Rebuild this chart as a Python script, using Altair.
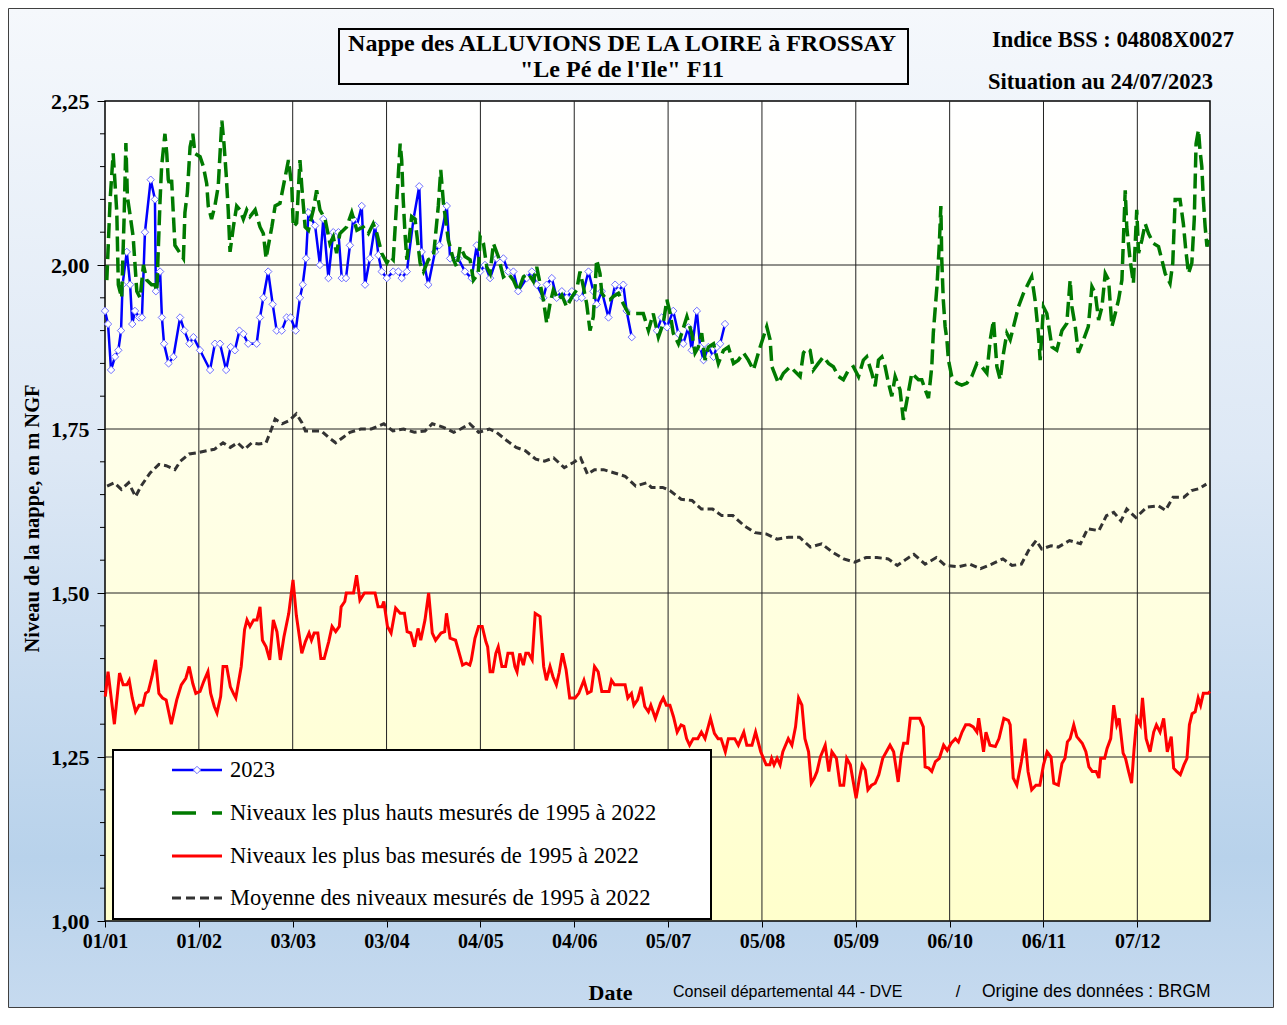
import altair as alt
import pandas as pd

# ---------------- axis definitions ----------------
TICK_DAYS = [0, 31, 62, 93, 124, 155, 186, 217, 248, 279, 310, 341]
TICK_LABELS = ["01/01", "01/02", "03/03", "03/04", "04/05", "04/06",
               "05/07", "05/08", "05/09", "06/10", "06/11", "07/12"]
Y_TICKS = [1.0, 1.25, 1.5, 1.75, 2.0, 2.25]
Y_MINOR = [1.05, 1.1, 1.15, 1.2, 1.3, 1.35, 1.4, 1.45, 1.55, 1.6, 1.65, 1.7,
           1.8, 1.85, 1.9, 1.95, 2.05, 2.1, 2.15, 2.2]

TITLE_LINES = ["Nappe des ALLUVIONS DE LA LOIRE à FROSSAY", "\"Le Pé de l'Ile\" F11"]
INFO_LINES = ["Indice BSS : 04808X0027", "Situation au 24/07/2023"]
SERIES_LABELS = ["2023",
                 "Niveaux les plus hauts mesurés de 1995 à 2022",
                 "Niveaux les plus bas mesurés de 1995 à 2022",
                 "Moyenne des niveaux mesurés de 1995 à 2022"]
CREDITS = ["Conseil départemental 44 - DVE", "/", "Origine des données : BRGM"]

# ---------------- data (day of year, level in m NGF) ----------------
Y2023_PART1 = [(0.0, 1.93), (1.0, 1.91), (2.0, 1.84), (3.3, 1.86), (4.4, 1.87), (5.3, 1.90),
    (5.8, 1.97), (7.2, 2.02), (8.3, 1.97), (9.0, 1.91), (9.9, 1.93), (11.3, 1.92), (12.2, 1.92),
    (13.2, 2.05), (15.1, 2.13), (16.5, 2.10), (16.8, 1.96), (18.2, 1.99), (18.8, 1.92), (19.5, 1.88),
    (21.0, 1.85), (22.6, 1.86), (24.8, 1.92), (26.2, 1.90), (27.9, 1.88), (29.2, 1.89), (31.4, 1.87),
    (34.7, 1.84), (36.3, 1.88), (38.0, 1.88), (40.0, 1.84), (41.5, 1.875), (42.9, 1.87), (44.4, 1.90),
    (45.7, 1.895), (47.3, 1.88), (50.1, 1.88), (51.2, 1.92), (52.3, 1.95), (53.9, 1.99), (55.4, 1.94),
    (56.7, 1.90), (58.4, 1.90), (60.0, 1.92), (61.3, 1.92), (63.0, 1.90), (64.4, 1.95), (65.3, 1.97),
    (66.4, 2.01), (67.2, 2.08), (69.4, 2.06), (71.0, 2.00), (72.1, 2.07), (73.8, 1.98), (75.4, 2.05),
    (77.1, 2.05), (78.2, 1.98), (79.6, 1.98), (80.9, 2.03), (82.0, 2.07), (83.2, 2.06), (84.8, 2.09),
    (85.9, 1.97), (87.5, 2.01), (89.2, 2.06), (90.3, 2.015), (91.4, 1.99), (93.1, 1.98), (95.2, 1.99),
    (96.9, 1.99), (98.0, 1.98), (99.7, 1.99), (101.9, 2.07), (103.8, 2.12), (104.6, 2.02), (106.8, 1.97),
    (109.0, 2.02), (110.4, 2.03), (112.9, 2.09), (114.0, 2.01), (116.7, 2.01), (118.9, 1.99), (121.1, 1.98),
    (122.8, 2.03), (123.9, 1.99), (125.5, 2.00), (127.2, 1.98), (129.4, 2.01), (131.6, 2.01), (133.2, 1.99),
    (134.9, 1.99), (136.5, 1.96), (139.3, 1.98), (141.0, 1.99), (142.6, 1.97), (144.8, 1.95), (145.9, 1.97),
    (147.6, 1.98), (149.2, 1.95), (150.9, 1.96), (152.5, 1.95), (154.2, 1.96), (155.8, 1.95), (157.5, 1.95),
    (159.7, 1.99), (161.3, 1.96), (162.4, 1.94), (164.1, 1.96), (166.3, 1.92), (168.5, 1.97), (169.6, 1.96),
    (171.2, 1.97), (172.3, 1.93), (174.0, 1.89)]
Y2023_PART2 = [(182.3, 1.90), (183.9, 1.92), (185.6, 1.905), (187.7, 1.93), (189.4, 1.895), (191.0, 1.88),
    (192.7, 1.905), (193.8, 1.87), (195.5, 1.93), (196.6, 1.875), (197.7, 1.855), (199.3, 1.875),
    (201.0, 1.86), (202.1, 1.875), (203.2, 1.88), (204.8, 1.91)]

MAX_LEVELS = [(0.6, 1.977), (1.7, 2.10), (2.7, 2.17), (3.9, 2.08), (4.4, 1.97), (5.5, 1.95), (6.3, 2.07),
    (6.9, 2.186), (7.4, 2.104), (8.3, 2.076), (9.3, 2.043), (10.5, 1.96), (11.6, 1.95), (12.7, 2.00),
    (13.8, 1.977), (15.4, 1.97), (16.5, 1.97), (17.1, 1.96), (18.2, 2.10), (18.7, 2.15), (19.8, 2.20),
    (20.4, 2.17), (20.9, 2.13), (21.5, 2.12), (22.0, 2.13), (23.1, 2.03), (24.8, 2.018), (25.9, 2.01),
    (26.4, 2.08), (27.2, 2.11), (28.1, 2.18), (29.0, 2.20), (29.7, 2.17), (31.4, 2.165), (32.5, 2.15),
    (33.6, 2.124), (34.1, 2.09), (35.2, 2.07), (36.3, 2.09), (37.4, 2.12), (38.6, 2.22), (39.3, 2.185),
    (40.0, 2.14), (40.7, 2.084), (41.3, 2.02), (42.4, 2.058), (43.5, 2.09), (44.6, 2.084), (45.7, 2.07),
    (46.8, 2.084), (47.9, 2.074), (49.6, 2.084), (51.2, 2.058), (52.3, 2.048), (53.2, 2.01), (53.9, 2.028),
    (55.1, 2.058), (56.2, 2.09), (57.8, 2.094), (59.5, 2.134), (60.6, 2.16), (61.7, 2.12), (62.2, 2.058),
    (63.3, 2.064), (64.4, 2.16), (65.0, 2.12), (66.1, 2.058), (67.2, 2.053), (68.8, 2.084), (69.9, 2.114),
    (71.0, 2.084), (72.7, 2.07), (74.3, 2.033), (75.4, 2.043), (76.5, 2.018), (77.6, 2.048), (79.8, 2.058),
    (81.5, 2.08), (83.2, 2.053), (85.3, 2.058), (87.0, 2.048), (88.6, 2.063), (89.8, 2.048), (91.4, 2.018),
    (93.1, 2.003), (94.2, 2.013), (95.2, 2.008), (96.4, 2.10), (97.5, 2.185), (98.0, 2.16), (98.5, 2.10),
    (99.1, 2.048), (99.7, 2.008), (101.3, 2.074), (102.4, 2.07), (104.1, 2.003), (105.2, 1.99),
    (106.8, 2.008), (108.5, 2.013), (110.1, 2.09), (110.9, 2.145), (111.8, 2.094), (113.4, 2.038),
    (115.1, 2.008), (116.2, 1.997), (117.3, 2.028), (118.9, 2.013), (120.6, 2.008), (121.7, 1.977),
    (123.3, 1.987), (123.9, 2.043), (125.0, 2.033), (126.1, 1.997), (127.2, 1.987), (128.3, 2.033),
    (129.9, 2.013), (131.6, 1.982), (133.2, 1.987), (134.9, 1.977), (136.5, 1.96), (138.2, 1.982),
    (139.8, 1.987), (141.5, 1.975), (142.6, 1.997), (143.7, 1.972), (144.8, 1.947), (145.9, 1.911),
    (147.0, 1.941), (148.1, 1.962), (149.8, 1.947), (150.9, 1.954), (152.5, 1.936), (154.2, 1.951),
    (155.8, 1.962), (156.9, 1.99), (158.0, 1.967), (159.1, 1.941), (160.2, 1.90), (161.3, 1.921),
    (162.4, 2.008), (163.5, 1.987), (164.1, 1.957), (165.7, 1.947), (166.8, 1.947), (167.9, 1.952),
    (169.6, 1.957), (171.2, 1.941), (172.9, 1.926), (174.5, 1.926), (177.8, 1.926), (179.5, 1.90),
    (181.1, 1.926), (182.8, 1.89), (184.4, 1.911), (185.6, 1.947), (186.7, 1.926), (187.7, 1.896),
    (189.4, 1.88), (190.5, 1.896), (192.2, 1.921), (193.8, 1.896), (194.9, 1.866), (196.0, 1.875),
    (197.1, 1.896), (198.2, 1.855), (199.3, 1.875), (201.0, 1.88), (202.6, 1.85), (204.3, 1.87),
    (205.9, 1.875), (207.6, 1.85), (209.2, 1.855), (210.9, 1.866), (212.5, 1.855), (214.2, 1.84),
    (216.4, 1.875), (218.6, 1.906), (219.7, 1.886), (220.3, 1.845), (222.4, 1.82), (224.1, 1.835),
    (226.3, 1.845), (229.6, 1.83), (230.7, 1.866), (231.8, 1.873), (232.9, 1.87), (234.0, 1.84),
    (235.6, 1.85), (237.3, 1.86), (239.0, 1.85), (240.6, 1.845), (242.3, 1.83), (243.9, 1.825),
    (245.6, 1.84), (247.2, 1.845), (248.9, 1.83), (250.5, 1.855), (251.6, 1.86), (253.3, 1.835),
    (254.4, 1.815), (255.5, 1.855), (256.6, 1.86), (257.7, 1.845), (258.8, 1.82), (259.9, 1.80),
    (261.0, 1.83), (262.6, 1.81), (263.7, 1.764), (264.9, 1.794), (266.5, 1.835), (268.7, 1.825),
    (269.8, 1.825), (270.9, 1.81), (272.0, 1.797), (273.1, 1.845), (273.6, 1.896), (274.8, 1.967),
    (275.6, 2.033), (276.1, 2.09), (276.4, 2.008), (276.9, 1.947), (277.5, 1.906), (278.1, 1.886),
    (278.6, 1.855), (279.7, 1.83), (281.4, 1.82), (283.0, 1.817), (284.7, 1.82), (286.3, 1.83),
    (288.0, 1.85), (289.6, 1.845), (291.3, 1.835), (292.4, 1.886), (293.5, 1.916), (294.6, 1.845),
    (295.7, 1.825), (296.8, 1.866), (297.9, 1.896), (299.0, 1.886), (300.1, 1.906), (301.7, 1.936),
    (303.4, 1.957), (305.0, 1.972), (306.1, 1.982), (307.2, 1.947), (308.3, 1.896), (308.9, 1.855),
    (310.0, 1.936), (311.1, 1.926), (312.8, 1.875), (314.4, 1.87), (316.1, 1.90), (317.7, 1.911),
    (318.8, 1.977), (319.4, 1.936), (320.5, 1.906), (321.5, 1.866), (323.2, 1.886), (324.8, 1.906),
    (326.0, 1.967), (327.1, 1.957), (328.2, 1.916), (329.3, 1.936), (330.4, 1.987), (331.5, 1.977),
    (332.6, 1.906), (333.7, 1.926), (334.8, 1.947), (335.9, 1.977), (336.4, 2.038), (337.0, 2.114),
    (337.5, 2.058), (338.6, 2.008), (339.7, 1.972), (340.3, 2.033), (340.8, 2.084), (341.4, 2.018),
    (342.5, 2.038), (343.6, 2.063), (344.7, 2.048), (346.3, 2.033), (348.0, 2.028), (349.1, 2.008),
    (350.2, 1.987), (351.8, 1.972), (352.7, 2.003), (353.5, 2.10), (355.1, 2.10), (356.2, 2.063),
    (357.0, 2.023), (357.9, 1.987), (359.0, 2.003), (359.8, 2.07), (360.4, 2.185), (361.2, 2.206),
    (361.7, 2.175), (362.3, 2.15), (362.8, 2.10), (363.4, 2.058), (364.0, 2.028), (364.8, 2.048)]

MIN_LEVELS = [(0.1, 1.342), (1.0, 1.38), (3.1, 1.30), (4.8, 1.378), (6.0, 1.36), (7.2, 1.36), (8.0, 1.367),
    (9.0, 1.34), (10.1, 1.319), (11.3, 1.329), (12.5, 1.329), (13.4, 1.347), (14.3, 1.35), (15.5, 1.372),
    (16.7, 1.398), (17.8, 1.347), (19.0, 1.34), (20.2, 1.337), (21.9, 1.30), (23.7, 1.337), (25.2, 1.36),
    (26.7, 1.37), (27.8, 1.388), (29.0, 1.362), (30.0, 1.347), (31.4, 1.35), (32.6, 1.365), (34.0, 1.38),
    (34.9, 1.347), (36.1, 1.327), (37.0, 1.317), (38.2, 1.342), (39.0, 1.388), (40.2, 1.388), (41.4, 1.357),
    (42.6, 1.345), (43.2, 1.34), (45.0, 1.388), (46.1, 1.444), (46.9, 1.459), (47.9, 1.449), (49.1, 1.459),
    (50.2, 1.459), (51.2, 1.479), (52.0, 1.428), (53.2, 1.418), (54.4, 1.398), (55.6, 1.459), (56.8, 1.441),
    (57.9, 1.398), (59.1, 1.433), (60.7, 1.469), (62.1, 1.52), (63.2, 1.466), (65.0, 1.408), (66.2, 1.426),
    (67.4, 1.439), (68.2, 1.428), (69.1, 1.439), (70.3, 1.439), (71.3, 1.40), (72.4, 1.40), (73.9, 1.426),
    (75.0, 1.449), (76.2, 1.441), (77.4, 1.449), (78.0, 1.479), (79.2, 1.487), (79.7, 1.50), (82.1, 1.50),
    (83.1, 1.527), (84.2, 1.489), (85.7, 1.50), (87.4, 1.50), (89.2, 1.50), (90.2, 1.479), (91.5, 1.479),
    (92.1, 1.487), (93.3, 1.449), (94.5, 1.439), (96.0, 1.477), (97.5, 1.469), (98.9, 1.469), (99.8, 1.441),
    (101.0, 1.439), (102.2, 1.418), (103.4, 1.446), (104.3, 1.428), (105.7, 1.459), (106.9, 1.50),
    (108.1, 1.439), (109.2, 1.428), (111.0, 1.439), (112.2, 1.441), (112.8, 1.469), (114.0, 1.431),
    (115.8, 1.428), (118.1, 1.39), (119.3, 1.393), (120.5, 1.39), (121.0, 1.398), (122.2, 1.431),
    (123.4, 1.449), (124.6, 1.449), (125.8, 1.426), (126.4, 1.418), (127.2, 1.38), (128.1, 1.38),
    (129.1, 1.408), (129.9, 1.418), (131.1, 1.388), (132.3, 1.388), (133.1, 1.408), (134.6, 1.408),
    (135.4, 1.388), (136.1, 1.38), (137.0, 1.408), (138.2, 1.39), (139.0, 1.408), (139.9, 1.408),
    (141.1, 1.398), (142.1, 1.469), (143.7, 1.464), (144.9, 1.388), (145.8, 1.367), (147.0, 1.388),
    (148.0, 1.372), (149.1, 1.36), (150.0, 1.378), (151.1, 1.408), (152.3, 1.383), (153.5, 1.34),
    (155.3, 1.34), (156.5, 1.347), (158.2, 1.367), (159.4, 1.347), (160.6, 1.35), (161.7, 1.388),
    (162.9, 1.38), (164.1, 1.35), (166.5, 1.35), (167.3, 1.367), (168.3, 1.36), (171.8, 1.36),
    (172.7, 1.34), (173.9, 1.347), (174.7, 1.329), (175.9, 1.337), (177.1, 1.357), (178.3, 1.327),
    (179.5, 1.319), (180.3, 1.329), (181.8, 1.309), (183.5, 1.332), (184.4, 1.34), (185.4, 1.329),
    (186.6, 1.329), (187.8, 1.311), (189.0, 1.288), (190.3, 1.299), (191.2, 1.297), (192.1, 1.278),
    (193.1, 1.268), (194.3, 1.278), (195.8, 1.278), (197.0, 1.288), (198.2, 1.278), (200.0, 1.309),
    (201.3, 1.286), (202.5, 1.278), (203.5, 1.278), (204.9, 1.258), (205.9, 1.278), (208.0, 1.278),
    (209.2, 1.268), (211.0, 1.288), (212.0, 1.268), (213.7, 1.268), (214.9, 1.288), (216.6, 1.258),
    (218.4, 1.238), (219.6, 1.238), (220.2, 1.248), (221.0, 1.238), (222.0, 1.248), (223.0, 1.238),
    (223.9, 1.258), (225.7, 1.278), (226.9, 1.268), (228.1, 1.296), (229.1, 1.34), (230.2, 1.329),
    (231.2, 1.278), (232.4, 1.258), (233.3, 1.21), (234.3, 1.218), (235.2, 1.228), (236.3, 1.25),
    (237.9, 1.268), (239.1, 1.228), (240.1, 1.258), (241.6, 1.248), (242.8, 1.207), (244.0, 1.207),
    (245.0, 1.248), (246.2, 1.238), (248.1, 1.187), (249.2, 1.218), (250.1, 1.238), (251.1, 1.23),
    (252.0, 1.20), (253.2, 1.207), (254.4, 1.21), (255.6, 1.223), (256.9, 1.248), (258.1, 1.258),
    (259.3, 1.268), (260.5, 1.258), (262.0, 1.212), (263.0, 1.253), (263.8, 1.271), (265.1, 1.271),
    (266.0, 1.309), (269.1, 1.309), (270.3, 1.296), (270.9, 1.235), (272.1, 1.233), (273.1, 1.228),
    (274.3, 1.243), (275.6, 1.248), (277.0, 1.268), (278.2, 1.26), (279.5, 1.271), (280.9, 1.278),
    (281.9, 1.273), (283.1, 1.288), (284.3, 1.299), (285.6, 1.299), (286.8, 1.296), (288.0, 1.288),
    (288.6, 1.309), (290.2, 1.258), (291.0, 1.288), (292.3, 1.268), (294.1, 1.266), (295.3, 1.278),
    (296.9, 1.309), (298.4, 1.306), (299.0, 1.299), (300.0, 1.218), (301.2, 1.207), (302.7, 1.243),
    (303.9, 1.278), (304.9, 1.228), (306.1, 1.20), (307.5, 1.207), (308.8, 1.207), (310.0, 1.238),
    (311.2, 1.258), (312.5, 1.25), (313.4, 1.21), (314.9, 1.207), (316.1, 1.24), (317.1, 1.248),
    (317.9, 1.273), (318.8, 1.278), (320.0, 1.299), (321.0, 1.281), (322.8, 1.271), (324.0, 1.258),
    (325.0, 1.235), (326.1, 1.228), (327.4, 1.228), (328.3, 1.218), (328.9, 1.248), (330.2, 1.248),
    (331.0, 1.263), (332.2, 1.278), (333.2, 1.329), (334.2, 1.299), (335.0, 1.309), (336.3, 1.256),
    (337.1, 1.248), (338.1, 1.228), (339.1, 1.21), (339.9, 1.261), (340.8, 1.309), (342.0, 1.299),
    (342.7, 1.34), (343.9, 1.278), (345.2, 1.258), (346.4, 1.288), (347.3, 1.299), (348.5, 1.288),
    (349.7, 1.309), (350.9, 1.258), (352.2, 1.281), (353.0, 1.233), (354.0, 1.228), (355.2, 1.223),
    (356.4, 1.238), (357.4, 1.248), (358.2, 1.299), (359.1, 1.316), (360.1, 1.319), (361.1, 1.34),
    (361.9, 1.329), (362.8, 1.347), (364.4, 1.347), (365.0, 1.35)]

MEAN_LEVELS = [(0.7, 1.663), (3.1, 1.668), (5.4, 1.658), (7.8, 1.668), (10.1, 1.647), (11.9, 1.663),
    (14.9, 1.683), (17.8, 1.696), (20.2, 1.694), (23.1, 1.688), (24.9, 1.701), (27.8, 1.712), (30.8, 1.714),
    (33.7, 1.717), (36.1, 1.719), (39.0, 1.729), (41.4, 1.722), (43.8, 1.729), (46.1, 1.719), (48.5, 1.729),
    (50.8, 1.727), (53.2, 1.729), (55.0, 1.75), (56.2, 1.765), (58.5, 1.758), (60.9, 1.763), (63.2, 1.773),
    (65.0, 1.76), (66.2, 1.747), (69.1, 1.747), (71.5, 1.747), (73.9, 1.737), (76.2, 1.729), (78.6, 1.737),
    (80.9, 1.745), (84.5, 1.75), (88.0, 1.75), (92.1, 1.758), (95.1, 1.747), (98.6, 1.75), (102.2, 1.745),
    (105.7, 1.747), (108.1, 1.758), (111.6, 1.753), (115.2, 1.745), (117.5, 1.75), (120.5, 1.758),
    (123.4, 1.745), (127.0, 1.75), (129.3, 1.745), (132.8, 1.732), (135.8, 1.722), (138.8, 1.717),
    (142.3, 1.704), (145.2, 1.701), (148.2, 1.706), (151.7, 1.691), (154.7, 1.699), (157.1, 1.706),
    (159.4, 1.681), (161.7, 1.688), (164.7, 1.688), (168.3, 1.683), (171.8, 1.678), (175.3, 1.663),
    (178.9, 1.668), (180.5, 1.661), (184.2, 1.661), (186.6, 1.656), (190.3, 1.643), (193.9, 1.641),
    (197.0, 1.628), (200.7, 1.628), (203.7, 1.618), (207.4, 1.618), (211.0, 1.603), (214.7, 1.592),
    (218.4, 1.59), (222.0, 1.582), (225.7, 1.585), (229.4, 1.585), (233.0, 1.57), (236.7, 1.575),
    (240.4, 1.562), (244.0, 1.552), (247.7, 1.547), (251.4, 1.554), (255.0, 1.554), (258.7, 1.552),
    (261.7, 1.542), (264.8, 1.552), (267.2, 1.559), (270.9, 1.544), (274.6, 1.554), (277.6, 1.542),
    (281.9, 1.54), (285.6, 1.544), (289.2, 1.537), (292.9, 1.544), (296.6, 1.552), (299.6, 1.542),
    (302.7, 1.544), (305.1, 1.565), (307.6, 1.58), (309.4, 1.567), (312.5, 1.572), (314.9, 1.57),
    (318.6, 1.58), (322.2, 1.575), (324.6, 1.598), (328.3, 1.595), (330.8, 1.618), (333.2, 1.623),
    (335.6, 1.61), (337.5, 1.628), (340.5, 1.615), (344.2, 1.631), (347.9, 1.633), (350.3, 1.626),
    (352.8, 1.646), (356.4, 1.646), (358.9, 1.656), (361.3, 1.659), (363.8, 1.666)]

# ---------------- styling ----------------
SERIF = "Liberation Serif"
SANS = "Liberation Sans"
W, H = 1105, 820
C_BLUE, C_MARK, C_GREEN, C_RED, C_MEAN = "#0000ff", "#6f6fff", "#007a00", "#ff0000", "#333333"
DASH_MAX, DASH_MEAN = [15, 6], [7, 4]


def frame(pairs):
    return pd.DataFrame(pairs, columns=["day", "level"])


blue_df = pd.concat([frame(Y2023_PART1).assign(seg=0), frame(Y2023_PART2).assign(seg=1)])
max_df, min_df, mean_df = frame(MAX_LEVELS), frame(MIN_LEVELS), frame(MEAN_LEVELS)
one = pd.DataFrame({"k": [0]})

xs = alt.Scale(domain=[0, 365], nice=False, zero=False)
ys = alt.Scale(domain=[1.0, 2.25], nice=False, zero=False)

lab_expr = "[" + ",".join("'%s'" % s for s in TICK_LABELS) + "][indexof([" + \
    ",".join(str(d) for d in TICK_DAYS) + "], datum.value)]"

x_axis = alt.Axis(values=TICK_DAYS, labelExpr=lab_expr, labelFont=SERIF, labelFontSize=20,
                  labelFontWeight="bold", labelColor="black", labelPadding=4, labelFlush=False,
                  labelOverlap=False, tickSize=6, tickColor="black", tickWidth=1, domain=False,
                  grid=False, zindex=1, title="Date", titleFont=SERIF, titleFontSize=22,
                  titleFontWeight="bold", titleColor="black", titleX=505, titleY=71,
                  titleAlign="center", titleBaseline="middle")
y_axis = alt.Axis(values=Y_TICKS, labelExpr="replace(format(datum.value, '.2f'), '.', ',')",
                  labelFont=SERIF, labelFontSize=22, labelFontWeight="bold", labelColor="black",
                  labelPadding=8, labelOverlap=False, tickSize=8, tickColor="black", tickWidth=1,
                  domain=False, grid=False, zindex=1, title="Niveau de la nappe, en m NGF",
                  titleFont=SERIF, titleFontSize=20.5, titleFontWeight="bold", titleColor="black",
                  titleX=-73, titleY=417, titleAngle=270, titleAlign="center", titleBaseline="middle")

X = alt.X("day:Q", scale=xs, axis=x_axis)
Y = alt.Y("level:Q", scale=ys, axis=y_axis)

page_grad = alt.LinearGradient(gradient="linear", x1=0, x2=0, y1=0, y2=1, stops=[
    alt.GradientStop(offset=0, color="#f5f8fc"), alt.GradientStop(offset=0.45, color="#dde8f5"),
    alt.GradientStop(offset=0.85, color="#b8d2eb"), alt.GradientStop(offset=1, color="#c6daef")])
plot_grad = alt.LinearGradient(gradient="linear", x1=0, x2=0, y1=0, y2=1, stops=[
    alt.GradientStop(offset=0, color="#ffffff"), alt.GradientStop(offset=1, color="#ffffcc")])

page_bg = alt.Chart(one).mark_rect(fill=page_grad, stroke="#404040", strokeWidth=1).encode(
    x=alt.value(-96.5), x2=alt.value(1168.5), y=alt.value(-92.5), y2=alt.value(906.5))
plot_bg = alt.Chart(one).mark_rect(fill=plot_grad, stroke="black", strokeWidth=1.5).encode(
    x=alt.value(0), x2=alt.value(W), y=alt.value(0), y2=alt.value(H))

grid_v = alt.Chart(pd.DataFrame({"day": TICK_DAYS[1:]})).mark_rule(color="#222222", strokeWidth=1).encode(x=X)
grid_h = alt.Chart(pd.DataFrame({"level": Y_TICKS[1:-1]})).mark_rule(color="#222222", strokeWidth=1).encode(y=Y)
minor = alt.Chart(pd.DataFrame({"level": Y_MINOR})).mark_rule(color="black", strokeWidth=1).encode(
    y=Y, x=alt.value(-5), x2=alt.value(0))

blue_line = alt.Chart(blue_df).mark_line(color=C_BLUE, strokeWidth=2.5).encode(x=X, y=Y, detail="seg:N")
blue_pts = alt.Chart(blue_df).mark_point(shape="diamond", filled=True, fill="white", stroke=C_MARK,
                                         strokeWidth=1, size=55, opacity=1).encode(x=X, y=Y)
max_line = alt.Chart(max_df).mark_line(color=C_GREEN, strokeWidth=3.5, strokeDash=DASH_MAX).encode(x=X, y=Y)
min_line = alt.Chart(min_df).mark_line(color=C_RED, strokeWidth=3).encode(x=X, y=Y)
mean_line = alt.Chart(mean_df).mark_line(color=C_MEAN, strokeWidth=3, strokeDash=DASH_MEAN).encode(x=X, y=Y)


def text(s, x, y, size, font=SERIF, weight="bold", align="center"):
    return alt.Chart(one).mark_text(text=s, font=font, fontSize=size, fontWeight=weight, align=align,
                                    baseline="middle", color="black").encode(x=alt.value(x), y=alt.value(y))


def hline(x1, x2, y, color, width, dash=None):
    kw = dict(color=color, strokeWidth=width)
    if dash:
        kw["strokeDash"] = dash
    return alt.Chart(one).mark_rule(**kw).encode(x=alt.value(x1), x2=alt.value(x2), y=alt.value(y))


title_box = alt.Chart(one).mark_rect(fill="#f6f8fc", stroke="black", strokeWidth=2).encode(
    x=alt.value(234), x2=alt.value(803), y=alt.value(-72), y2=alt.value(-17))

legend_box = alt.Chart(one).mark_rect(fill="white", stroke="black", strokeWidth=2).encode(
    x=alt.value(8), x2=alt.value(606), y=alt.value(649), y2=alt.value(818))
LEG_Y = [669, 712, 755, 797]
legend_layers = [
    legend_box,
    hline(67, 117, LEG_Y[0], C_BLUE, 2.5),
    alt.Chart(one).mark_point(shape="diamond", filled=True, fill="white", stroke=C_MARK, strokeWidth=1,
                              size=55, opacity=1).encode(x=alt.value(92), y=alt.value(LEG_Y[0])),
    hline(67, 117, LEG_Y[1], C_GREEN, 3.5, [24, 16]),
    hline(67, 117, LEG_Y[2], C_RED, 3),
    hline(67, 117, LEG_Y[3], C_MEAN, 3, [9, 5]),
] + [text(lbl, 125, y, 22.5, weight="normal", align="left") for lbl, y in zip(SERIES_LABELS, LEG_Y)]

annotations = [
    title_box,
    text(TITLE_LINES[0], 517, -57, 24),
    text(TITLE_LINES[1], 517, -31, 24),
    text(INFO_LINES[0], 887, -61, 22.5, align="left"),
    text(INFO_LINES[1], 883, -19, 22.5, align="left"),
    text(CREDITS[0], 568, 891, 16, font=SANS, weight="normal", align="left"),
    text(CREDITS[1], 853, 891, 16.5, font=SANS, weight="normal"),
    text(CREDITS[2], 877, 891, 17.5, font=SANS, weight="normal", align="left"),
]

chart = alt.layer(
    page_bg, plot_bg, grid_v, grid_h, minor,
    blue_line, blue_pts, max_line, min_line, mean_line,
    *legend_layers, *annotations
).properties(
    width=W, height=H,
    padding={"left": 97, "top": 93, "right": 64, "bottom": 87},
    autosize=alt.AutoSizeParams(type="none"),
).configure_view(stroke=None)

chart.save("out.html", embed_options={"renderer": "svg", "actions": False})
